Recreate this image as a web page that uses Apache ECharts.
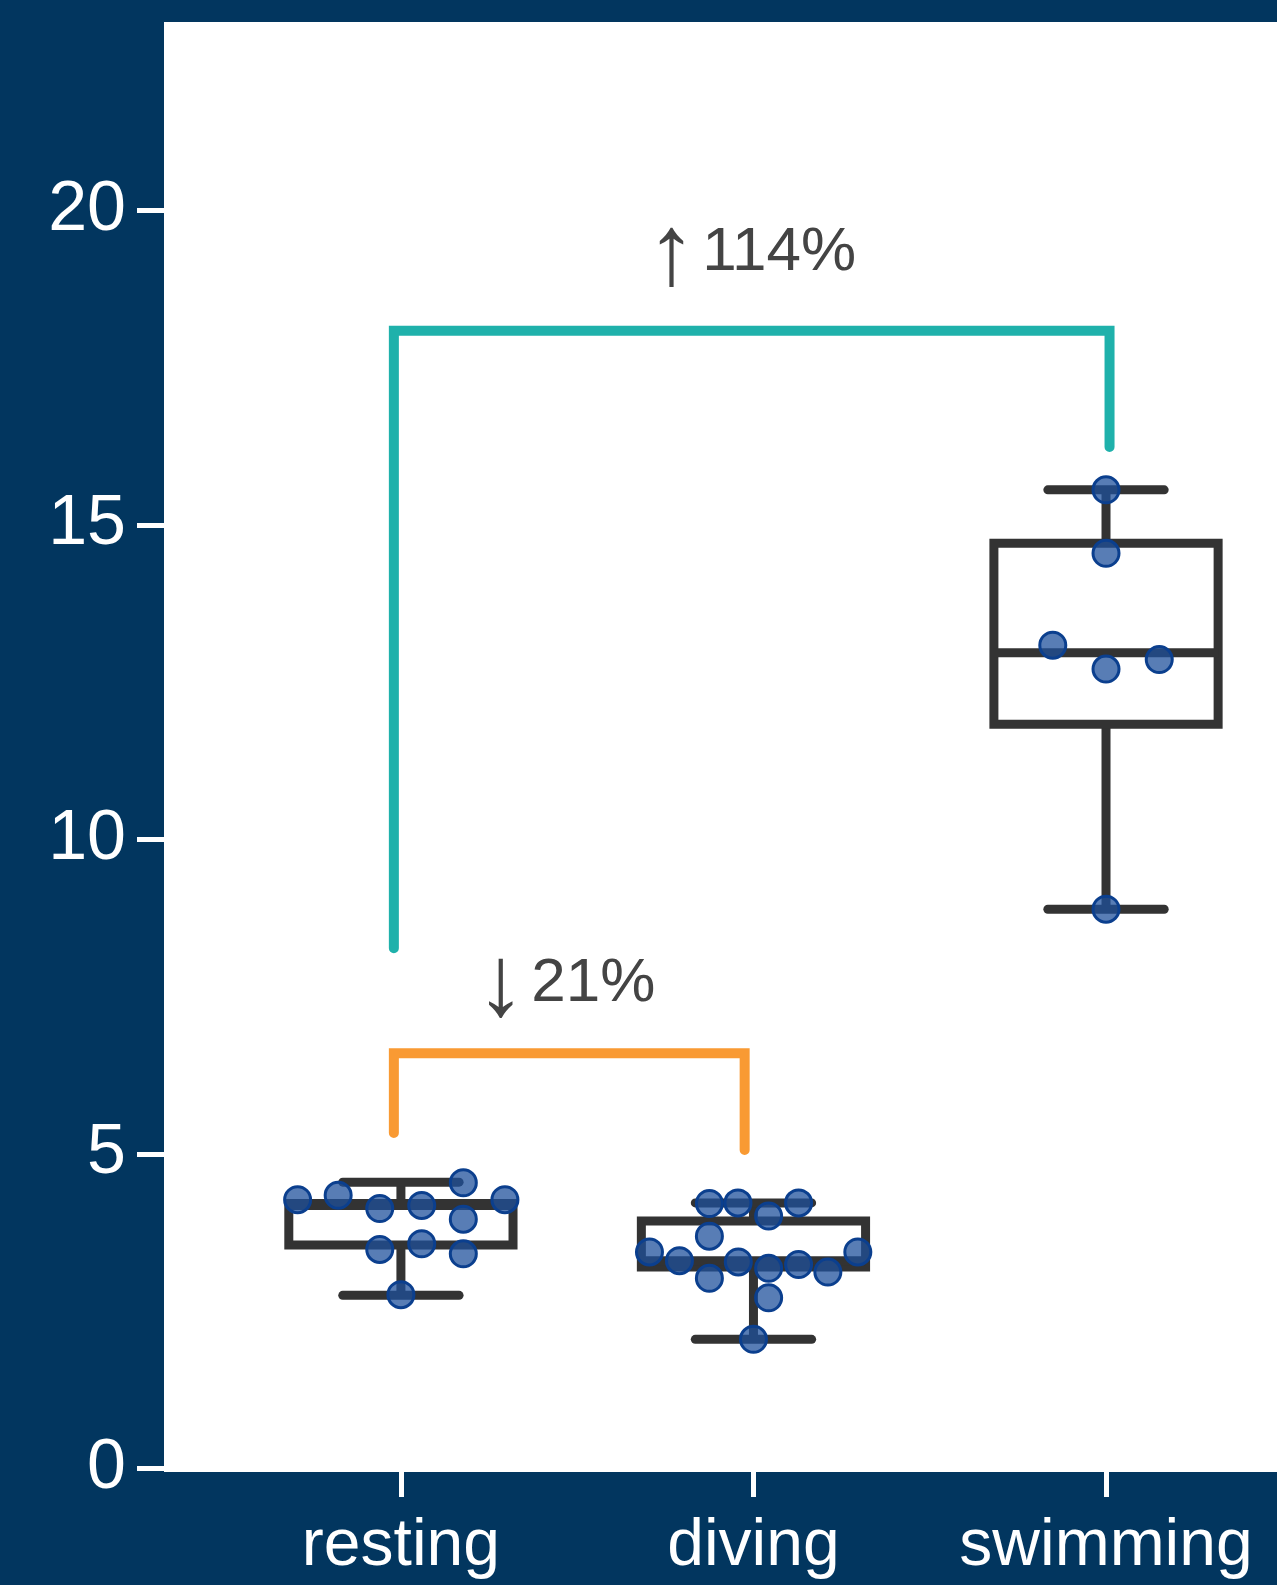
<!DOCTYPE html>
<html>
<head>
<meta charset="utf-8">
<title>Activity comparison</title>
<script src="https://cdn.jsdelivr.net/npm/echarts@6/dist/echarts.min.js"></script>
<style>
  html, body { margin: 0; padding: 0; background: #02365F; }
  #chart { width: 1277px; height: 1585px; }
</style>
</head>
<body>
<div id="chart"></div>
<script>
// ---- data ----
const categories = ['resting', 'diving', 'swimming'];
const yTicks = [0, 5, 10, 15, 20];

// whisker low, Q1, median, Q3, whisker high
const boxStats = [
  [2.75, 3.55, 4.18, 4.21, 4.55],
  [2.05, 3.20, 3.30, 3.93, 4.22],
  [8.89, 11.83, 12.97, 14.71, 15.56]
];

// individual observations per group
const restingValues  = [4.27, 4.34, 4.13, 4.18, 4.54, 4.27, 3.96, 3.48, 3.57, 3.41, 2.76];
const divingValues   = [4.21, 4.22, 4.01, 4.22, 3.69, 3.44, 3.30, 3.02, 3.28, 3.18, 3.24, 3.12, 3.44, 2.71, 2.05];
const swimmingValues = [15.56, 14.55, 13.09, 12.71, 12.86, 8.89];

// horizontal swarm offsets (category units) that keep the dots from overlapping
const restingSwarm  = [-0.293, -0.178, -0.060, 0.059, 0.177, 0.295, 0.177, -0.060, 0.059, 0.177, 0];
const divingSwarm   = [-0.125, -0.044, 0.043, 0.128, -0.125, -0.295, -0.210, -0.125, -0.043, 0.043, 0.128, 0.211, 0.296, 0.043, 0];
const swimmingSwarm = [0, 0, -0.151, 0, 0.151, 0];

// comparison brackets: [x start, x end, left foot, top, right foot]
const bracketTeal   = [-0.02, 2.01, 8.27, 18.09, 16.24];
const bracketOrange = [-0.02, 0.975, 5.33, 6.60, 5.06];

// change labels: [x, y, arrow, text]
const changeLabels = [
  [0.467, 7.71, '\u2193', '21%'],
  [0.994, 19.33, '\u2191', '114%']
];

// ---- styling ----
const NAVY = '#02365F';
const BOX_COLOR = '#333333';
const BOX_LW = 9;
const BOX_HALF = 0.318;
const CAP_HALF = 0.165;
const FONT = '"Liberation Sans", Arial, Helvetica, sans-serif';

const groups = [
  [restingValues, restingSwarm],
  [divingValues, divingSwarm],
  [swimmingValues, swimmingSwarm]
];
const pointData = [];
groups.forEach(([vals, offs], i) => {
  vals.forEach((v, k) => pointData.push([i + offs[k], v]));
});

function renderBox(params, api) {
  const i = api.value(0);
  const lo = api.value(1), q1 = api.value(2), med = api.value(3), q3 = api.value(4), hi = api.value(5);
  const c = (x, y) => api.coord([x, y]);
  const line = (a, b, cap) => ({
    type: 'line',
    shape: { x1: a[0], y1: a[1], x2: b[0], y2: b[1] },
    style: { stroke: BOX_COLOR, lineWidth: BOX_LW, lineCap: cap || 'butt' }
  });
  const tl = c(i - BOX_HALF, q3);
  const br = c(i + BOX_HALF, q1);
  return {
    type: 'group',
    children: [
      line(c(i, q3), c(i, hi)),
      line(c(i, q1), c(i, lo)),
      line(c(i - CAP_HALF, hi), c(i + CAP_HALF, hi), 'round'),
      line(c(i - CAP_HALF, lo), c(i + CAP_HALF, lo), 'round'),
      {
        type: 'rect',
        shape: { x: tl[0], y: tl[1], width: br[0] - tl[0], height: br[1] - tl[1] },
        style: { fill: 'rgba(0,0,0,0)', stroke: BOX_COLOR, lineWidth: BOX_LW, lineJoin: 'miter' }
      },
      line(c(i - BOX_HALF, med), c(i + BOX_HALF, med))
    ]
  };
}

function bracketSeries(b, color) {
  return {
    type: 'custom',
    z: 1,
    silent: true,
    data: [b],
    encode: { x: [0, 1], y: [2, 3, 4] },
    renderItem: function (params, api) {
      const x0 = api.value(0), x1 = api.value(1);
      const pts = [
        api.coord([x0, api.value(2)]),
        api.coord([x0, api.value(3)]),
        api.coord([x1, api.value(3)]),
        api.coord([x1, api.value(4)])
      ];
      return {
        type: 'polyline',
        shape: { points: pts },
        style: { stroke: color, lineWidth: 10, lineCap: 'round', lineJoin: 'miter', fill: null }
      };
    }
  };
}

const axisCommon = {
  type: 'value',
  splitLine: { show: false },
  axisLine: { show: true, onZero: false, lineStyle: { color: 'rgba(0,0,0,0)', width: 0 } }
};

const chart = echarts.init(document.getElementById('chart'), null, { renderer: 'canvas' });
chart.setOption({
  backgroundColor: NAVY,
  animation: false,
  grid: {
    left: 164, right: 0, top: 22, bottom: 113,
    show: true, backgroundColor: '#ffffff', borderWidth: 0
  },
  xAxis: Object.assign({}, axisCommon, {
    min: -0.672, max: 2.485,
    axisTick: {
      show: true, length: 25, inside: false,
      customValues: [0, 1, 2],
      lineStyle: { color: '#ffffff', width: 5 }
    },
    axisLabel: {
      show: true,
      customValues: [0, 1, 2],
      formatter: v => categories[Math.round(v)] || '',
      color: '#ffffff', fontSize: 66, fontFamily: FONT, margin: 42
    }
  }),
  yAxis: Object.assign({}, axisCommon, {
    min: -0.06, max: 23,
    axisTick: {
      show: true, length: 27, inside: false,
      customValues: yTicks,
      lineStyle: { color: '#ffffff', width: 5 }
    },
    axisLabel: {
      show: true,
      customValues: yTicks,
      color: '#ffffff', fontSize: 70, fontFamily: FONT, margin: 38
    }
  }),
  series: [
    bracketSeries(bracketTeal, '#1FB1AB'),
    bracketSeries(bracketOrange, '#F99A33'),
    {
      type: 'custom',
      z: 2,
      silent: true,
      data: boxStats.map((s, i) => [i].concat(s)),
      encode: { x: 0, y: [1, 2, 3, 4, 5] },
      renderItem: renderBox
    },
    {
      type: 'scatter',
      z: 3,
      silent: true,
      symbol: 'circle',
      symbolSize: 26,
      data: pointData,
      itemStyle: {
        color: 'rgba(30,80,155,0.74)',
        borderColor: '#0B3F8E',
        borderWidth: 3,
        opacity: 1
      }
    },
    {
      type: 'custom',
      z: 4,
      silent: true,
      data: changeLabels.map(d => [d[0], d[1]]),
      encode: { x: 0, y: 1 },
      renderItem: function (params, api) {
        const p = api.coord([api.value(0), api.value(1)]);
        const d = changeLabels[params.dataIndex];
        return {
          type: 'text',
          x: p[0], y: p[1],
          style: {
            text: '{arrow|' + d[2] + '}{gap| }{num|' + d[3] + '}',
            align: 'center',
            verticalAlign: 'middle',
            rich: {
              arrow: { fill: '#444444', fontFamily: FONT, fontSize: 100, padding: [8, 0, 0, 0] },
              gap: { fontFamily: FONT, fontSize: 20 },
              num: { fill: '#444444', fontFamily: FONT, fontSize: 62 }
            }
          }
        };
      }
    }
  ]
});
</script>
</body>
</html>
